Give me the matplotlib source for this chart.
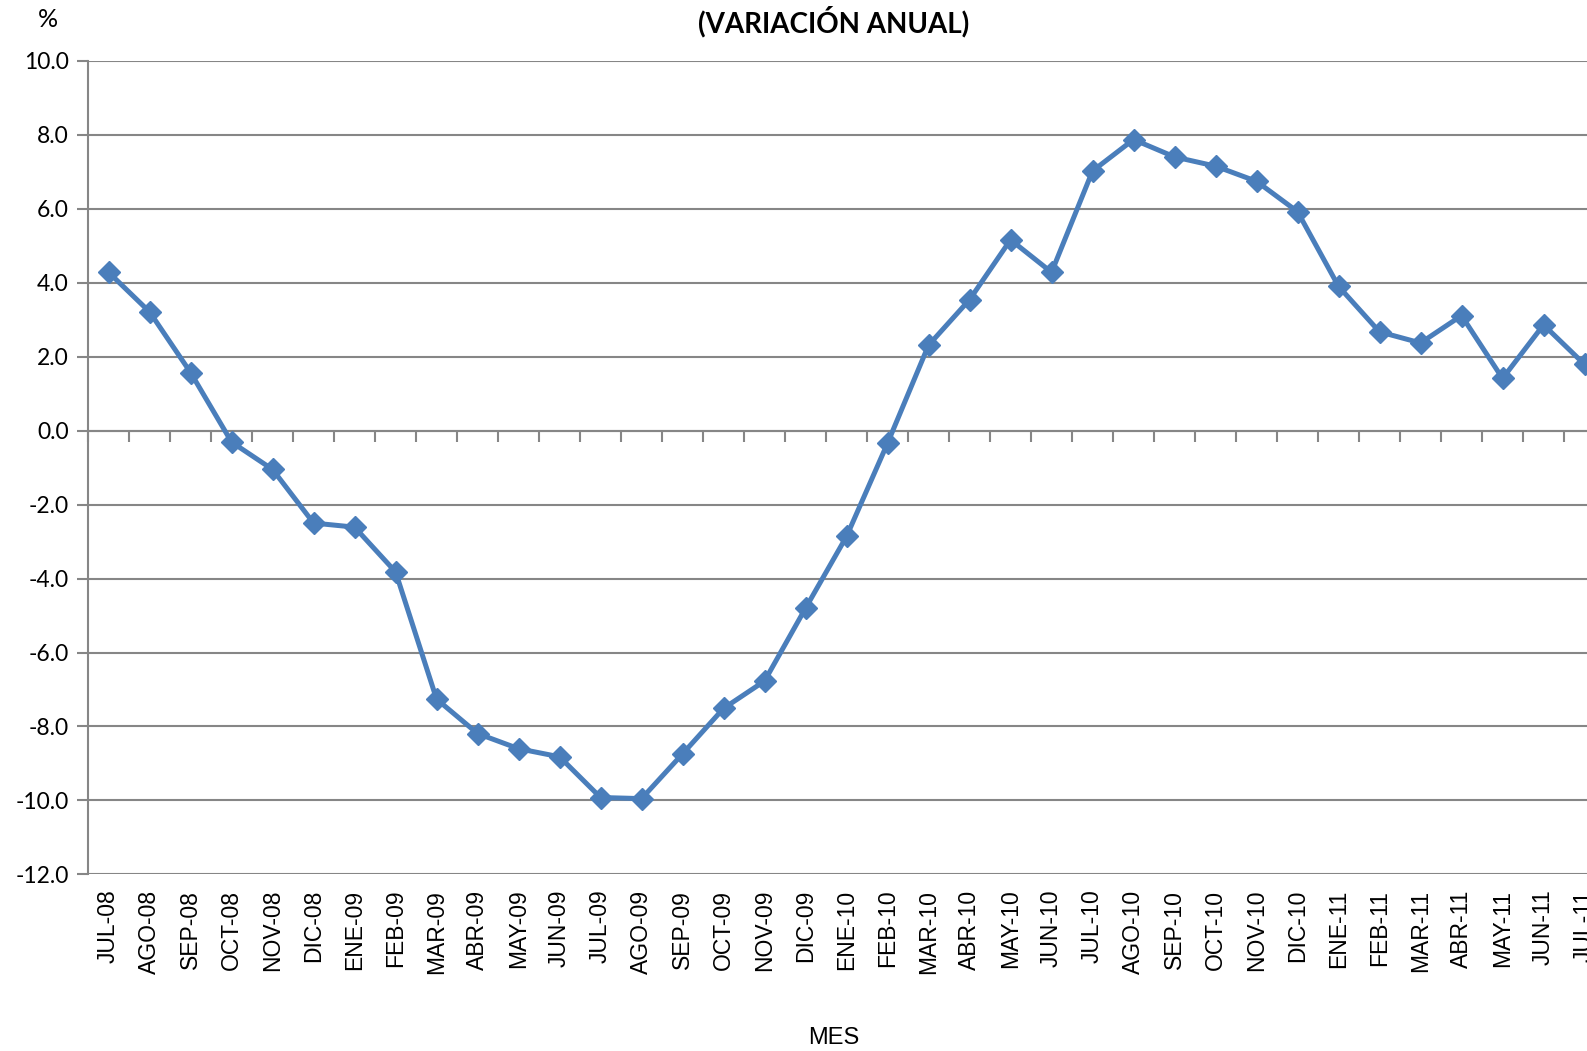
import numpy as np
import matplotlib.pyplot as plt

meses = ["JUL-08", "AGO-08", "SEP-08", "OCT-08", "NOV-08", "DIC-08",
         "ENE-09", "FEB-09", "MAR-09", "ABR-09", "MAY-09", "JUN-09",
         "JUL-09", "AGO-09", "SEP-09", "OCT-09", "NOV-09", "DIC-09",
         "ENE-10", "FEB-10", "MAR-10", "ABR-10", "MAY-10", "JUN-10",
         "JUL-10", "AGO-10", "SEP-10", "OCT-10", "NOV-10", "DIC-10",
         "ENE-11", "FEB-11", "MAR-11", "ABR-11", "MAY-11", "JUN-11",
         "JUL-11"]
variacion = [4.28, 3.21, 1.57, -0.31, -1.05, -2.50,
             -2.61, -3.82, -7.26, -8.19, -8.60, -8.82,
             -9.92, -9.95, -8.74, -7.51, -6.77, -4.80,
             -2.86, -0.34, 2.31, 3.54, 5.16, 4.28,
             7.02, 7.87, 7.40, 7.15, 6.74, 5.92,
             3.90, 2.67, 2.37, 3.11, 1.41, 2.86,
             1.79]
y_ticks = np.arange(-12, 10.1, 2)

gris = "#868686"
azul = "#4A7EBB"

fig = plt.figure(figsize=(15.87, 10.51), dpi=100)
# the original chart is cut off on the right edge
ax = fig.add_axes([0.0555, 0.168, 0.9445, 0.7742])

x = np.arange(len(meses))
ax.plot(x, variacion, color=azul, lw=3.6, marker="D", markersize=11,
        zorder=3, clip_on=True)

ax.set_ylim(-12, 10)
ax.set_xlim(-0.5, 36.06)
ax.set_yticks(y_ticks)
ax.set_yticklabels([f"{v:.1f}" for v in y_ticks], fontfamily="Lato", fontsize=16.5)
ax.yaxis.grid(True, color=gris, lw=1.5)
ax.set_axisbelow(True)

ax.set_xticks(x)
ax.set_xticklabels(meses, rotation=90, fontfamily="Liberation Sans", fontsize=16.5)
ax.tick_params(axis="x", length=0, pad=11)
ax.tick_params(axis="y", length=8, color=gris, width=1.5, pad=6)

for s in ["top", "right", "bottom"]:
    ax.spines[s].set_visible(False)
ax.spines["left"].set_color(gris)
ax.spines["left"].set_linewidth(1.5)

# category axis crossing at zero, ticks hanging below it
eje0 = ax.secondary_xaxis(12 / 22)
eje0.set_xticks(np.arange(len(meses) + 1) - 0.5)
eje0.tick_params(axis="x", length=8, color=gris, width=1.5, labelbottom=False,
                 labeltop=False, direction="in")
for s in eje0.spines.values():
    s.set_color(gris)
    s.set_linewidth(1.5)

fig.text(0.525, 0.979, "(VARIACIÓN ANUAL)", ha="center", va="center",
         fontfamily="Lato", fontweight="bold", fontsize=20)
fig.text(0.030, 0.981, "%", ha="center", va="center", fontfamily="Lato", fontsize=18)
fig.text(0.5255, 0.0125, "MES", ha="center", va="center", fontfamily="Liberation Sans",
         fontsize=17)

fig.savefig("out.png", dpi=100)
